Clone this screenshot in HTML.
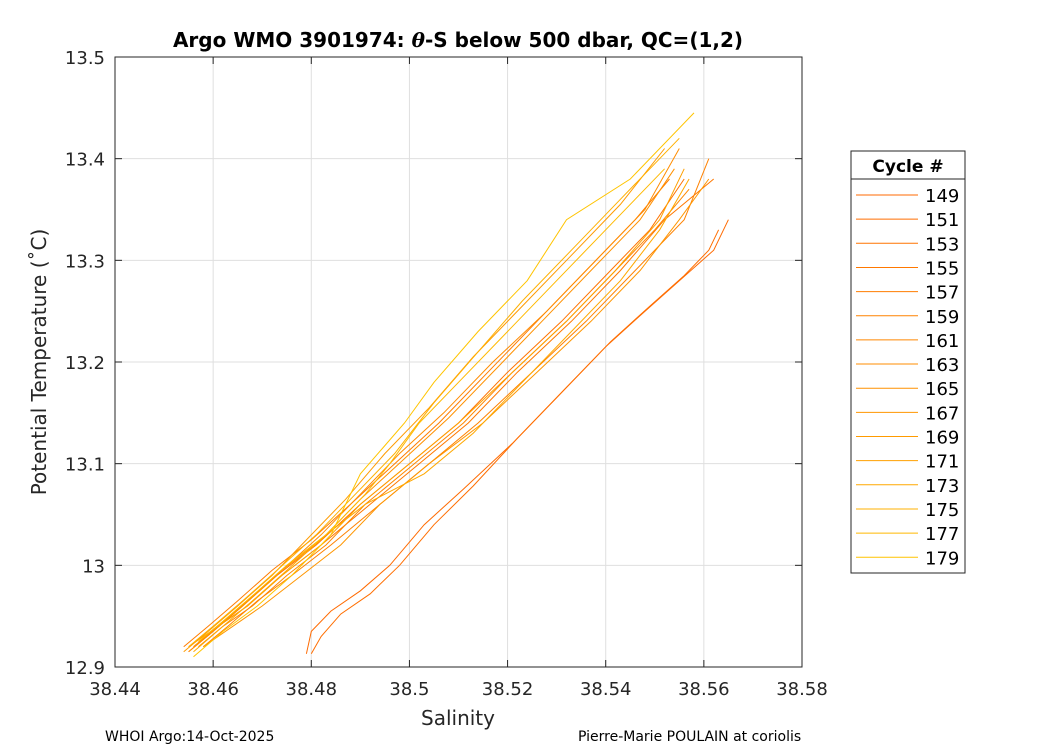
<!DOCTYPE html>
<html><head><meta charset="utf-8"><style>
body{margin:0;background:#fff;font-family:"DejaVu Sans","Liberation Sans",sans-serif}
svg{display:block;font-family:"DejaVu Sans","Liberation Sans",sans-serif}
</style></head><body>
<svg width="1050" height="750" xmlns="http://www.w3.org/2000/svg">
<rect width="1050" height="750" fill="#fff"/>
<g id="grid"></g>
<g id="series"></g>
<rect x="115" y="57" width="687" height="610" fill="none" stroke="#262626" stroke-width="1"/>
<g id="ticks" font-size="18" fill="#262626"></g>
<text x="458" y="47" text-anchor="middle" font-size="20" font-weight="bold" fill="#000">Argo WMO 3901974: <tspan font-style="italic" font-family="DejaVu Serif,serif">θ</tspan>-S below 500 dbar,  QC=(1,2)</text>
<text x="458" y="725" text-anchor="middle" font-size="20" fill="#262626">Salinity</text>
<text transform="translate(46,362) rotate(-90)" text-anchor="middle" font-size="20" fill="#262626">Potential Temperature (˚C)</text>
<text x="105" y="741" font-size="14" fill="#000">WHOI Argo:14-Oct-2025</text>
<text x="578" y="741" font-size="14" fill="#000">Pierre-Marie POULAIN at coriolis</text>
<g id="legend">
<rect x="851" y="151" width="114" height="422" fill="#fff" stroke="#262626"/>
<line x1="851" y1="179" x2="965" y2="179" stroke="#262626"/>
<text x="908" y="172" text-anchor="middle" font-size="17" font-weight="bold">Cycle #</text>
</g>
</svg>
<script>
const xTicks=[38.44,38.46,38.48,38.5,38.52,38.54,38.56,38.58];
const xTickLabels=["38.44","38.46","38.48","38.5","38.52","38.54","38.56","38.58"];
const yTicks=[12.9,13,13.1,13.2,13.3,13.4,13.5];
const yTickLabels=["12.9","13","13.1","13.2","13.3","13.4","13.5"];
const cycles=[149,151,153,155,157,159,161,163,165,167,169,171,173,175,177,179];
const colors=["#ff6a00","#ff6e00","#ff7300","#ff7800","#ff7d00","#ff8200","#ff8700","#ff8c00","#ff9100","#ff9600","#ff9b00","#ffa000","#ffa800","#ffb000","#ffb900","#ffc400"];
const sal149=[38.479,38.480,38.484,38.490,38.496,38.503,38.511,38.521,38.531,38.540,38.548,38.555,38.562,38.565];
const tmp149=[12.913,12.935,12.955,12.975,13.0,13.04,13.075,13.12,13.17,13.215,13.25,13.28,13.31,13.34];
const sal151=[38.480,38.482,38.486,38.492,38.498,38.505,38.513,38.522,38.532,38.541,38.549,38.556,38.561,38.563];
const tmp151=[12.913,12.93,12.952,12.972,13.0,13.04,13.078,13.125,13.175,13.22,13.255,13.285,13.31,13.33];
const sal153=[38.455,38.460,38.466,38.473,38.481,38.490,38.500,38.510,38.520,38.531,38.541,38.549,38.556];
const tmp153=[12.915,12.935,12.96,12.99,13.02,13.06,13.10,13.14,13.19,13.24,13.29,13.33,13.38];
const sal155=[38.456,38.461,38.467,38.474,38.482,38.492,38.502,38.512,38.522,38.533,38.543,38.552,38.562];
const tmp155=[12.92,12.94,12.96,12.99,13.02,13.06,13.10,13.14,13.19,13.24,13.29,13.34,13.38];
const sal157=[38.454,38.459,38.465,38.472,38.480,38.488,38.497,38.506,38.516,38.526,38.536,38.546,38.553];
const tmp157=[12.92,12.94,12.965,12.995,13.025,13.06,13.10,13.14,13.19,13.24,13.29,13.34,13.38];
const sal159=[38.458,38.463,38.469,38.476,38.484,38.494,38.504,38.514,38.525,38.536,38.546,38.556,38.561];
const tmp159=[12.92,12.94,12.965,12.99,13.02,13.06,13.10,13.14,13.19,13.24,13.29,13.34,13.40];
const sal161=[38.457,38.462,38.468,38.475,38.483,38.491,38.501,38.511,38.521,38.532,38.542,38.550,38.557];
const tmp161=[12.92,12.94,12.96,12.99,13.02,13.06,13.10,13.14,13.19,13.24,13.29,13.33,13.37];
const sal163=[38.455,38.460,38.466,38.474,38.482,38.490,38.498,38.507,38.517,38.528,38.538,38.548,38.555];
const tmp163=[12.915,12.935,12.96,12.995,13.03,13.07,13.11,13.15,13.20,13.25,13.30,13.35,13.41];
const sal165=[38.456,38.461,38.467,38.474,38.482,38.490,38.499,38.508,38.518,38.528,38.538,38.547,38.554];
const tmp165=[12.92,12.94,12.965,12.995,13.025,13.065,13.105,13.145,13.195,13.245,13.295,13.34,13.39];
const sal167=[38.458,38.464,38.470,38.478,38.486,38.494,38.504,38.515,38.526,38.537,38.547,38.555,38.561];
const tmp167=[12.92,12.94,12.96,12.99,13.02,13.06,13.10,13.14,13.19,13.24,13.29,13.34,13.38];
const sal169=[38.454,38.459,38.465,38.472,38.479,38.487,38.495,38.504,38.513,38.523,38.533,38.543,38.552];
const tmp169=[12.915,12.935,12.96,12.99,13.025,13.065,13.11,13.155,13.205,13.255,13.305,13.355,13.41];
const sal171=[38.455,38.461,38.467,38.474,38.482,38.490,38.500,38.510,38.521,38.532,38.542,38.551,38.556];
const tmp171=[12.92,12.94,12.96,12.99,13.02,13.06,13.10,13.14,13.19,13.24,13.29,13.34,13.39];
const sal173=[38.456,38.462,38.468,38.475,38.483,38.491,38.503,38.513,38.523,38.533,38.543,38.551,38.557];
const tmp173=[12.915,12.94,12.965,12.995,13.03,13.06,13.09,13.13,13.18,13.23,13.28,13.33,13.38];
const sal175=[38.455,38.460,38.466,38.473,38.481,38.489,38.497,38.505,38.514,38.523,38.533,38.543,38.555];
const tmp175=[12.92,12.94,12.965,12.995,13.03,13.07,13.11,13.16,13.21,13.26,13.31,13.36,13.42];
const sal177=[38.457,38.462,38.468,38.475,38.483,38.491,38.496,38.502,38.510,38.520,38.530,38.540,38.552];
const tmp177=[12.925,12.945,12.97,13.0,13.03,13.07,13.10,13.14,13.18,13.23,13.28,13.33,13.39];
const sal179=[38.456,38.462,38.469,38.476,38.484,38.490,38.499,38.505,38.514,38.524,38.532,38.545,38.558];
const tmp179=[12.91,12.935,12.96,12.99,13.03,13.09,13.14,13.18,13.23,13.28,13.34,13.38,13.445];
const salData=[sal149,sal151,sal153,sal155,sal157,sal159,sal161,sal163,sal165,sal167,sal169,sal171,sal173,sal175,sal177,sal179];
const tmpData=[tmp149,tmp151,tmp153,tmp155,tmp157,tmp159,tmp161,tmp163,tmp165,tmp167,tmp169,tmp171,tmp173,tmp175,tmp177,tmp179];

const NS="http://www.w3.org/2000/svg";
const X0=115,X1=802,Y0=667,Y1=57;
const xs=v=>X0+(v-38.44)/(38.58-38.44)*(X1-X0);
const ys=v=>Y0-(v-12.9)/(13.5-12.9)*(Y0-Y1);
function mk(tag,attrs,parent){const e=document.createElementNS(NS,tag);for(const k in attrs)e.setAttribute(k,attrs[k]);parent.appendChild(e);return e;}
const grid=document.getElementById('grid'),ticks=document.getElementById('ticks');
xTicks.forEach((t,i)=>{
  const x=xs(t);
  const g=mk('line',{x1:x,x2:x,y1:Y1,y2:Y0,stroke:'#dfdfdf'},grid);
  
  
  const tk=mk('line',{x1:x,x2:x,y1:Y0,y2:Y0-7,stroke:'#262626'},ticks);
  
  
  const tk2=mk('line',{x1:x,x2:x,y1:Y1,y2:Y1+7,stroke:'#262626'},ticks);
  
  
  const l=mk('text',{x:x,y:Y0+28,'text-anchor':'middle'},ticks);l.textContent=xTickLabels[i];
  
  
});
yTicks.forEach((t,i)=>{
  const y=ys(t);
  const g=mk('line',{x1:X0,x2:X1,y1:y,y2:y,stroke:'#dfdfdf'},grid);
  
  
  const tk=mk('line',{x1:X0,x2:X0+7,y1:y,y2:y,stroke:'#262626'},ticks);
  
  
  const tk2=mk('line',{x1:X1,x2:X1-7,y1:y,y2:y,stroke:'#262626'},ticks);
  
  
  const l=mk('text',{x:X0-10,y:y+7,'text-anchor':'end'},ticks);l.textContent=yTickLabels[i];
  
  
});
const ser=document.getElementById('series'),leg=document.getElementById('legend');
cycles.forEach((c,i)=>{
  const pts=salData[i].map((s,j)=>xs(s).toFixed(1)+','+ys(tmpData[i][j]).toFixed(1)).join(' ');
  const p=mk('polyline',{points:pts,fill:'none',stroke:colors[i],'stroke-width':1},ser);
  
  
  const y=195+i*24.15;
  const ll=mk('line',{x1:856,x2:918,y1:y,y2:y,stroke:colors[i]},leg);
  
  
  const lt=mk('text',{x:925,y:y+7,'font-size':18,fill:'#000'},leg);lt.textContent=c;
  
  
});
</script>
</body></html>
